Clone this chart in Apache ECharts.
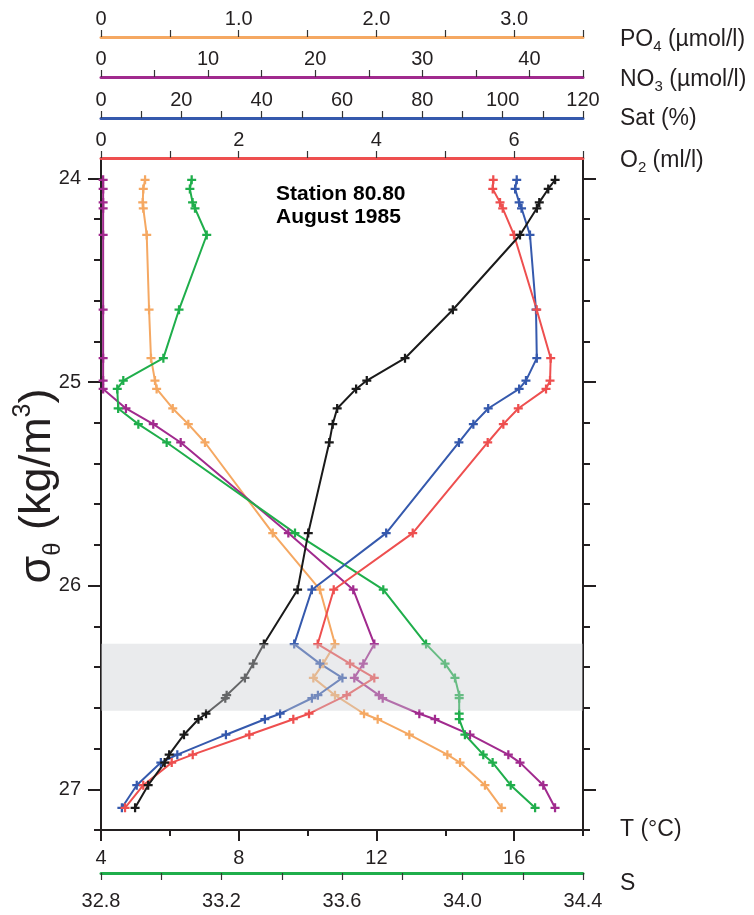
<!DOCTYPE html>
<html>
<head>
<meta charset="utf-8">
<script src="https://cdn.jsdelivr.net/npm/echarts@6/dist/echarts.min.js"></script>
<style>
  html, body { margin: 0; padding: 0; background: #fff; }
  #chart { width: 754px; height: 915px; }
</style>
</head>
<body>
<div id="chart"></div>
<script>
(function() {
	'use strict';

	// sigma-theta levels of the samples (kg/m3)
	var sigma = [24.007, 24.052, 24.118, 24.147, 24.278, 24.645, 24.883, 24.993, 25.034, 25.13, 25.207, 25.297, 25.742,
		26.02, 26.287, 26.383, 26.453, 26.538, 26.553, 26.629, 26.656, 26.732, 26.83, 26.869, 26.98, 27.091];
	var temp = [17.19, 16.99, 16.73, 16.66, 16.17, 14.22, 12.83, 11.72, 11.41, 10.86, 10.73, 10.63, 10.02,
		9.71, 8.73, 8.42, 8.18, 7.65, 7.61, 7.05, 6.83, 6.41, 5.98, 5.85, 5.37, 4.99];
	var salt = [33.101, 33.095, 33.104, 33.112, 33.151, 33.059, 33.007, 32.874, 32.854, 32.857, 32.924, 33.018, 33.444,
		33.737, 33.879, 33.942, 33.975, 33.989, 33.989, 33.989, 33.989, 34.008, 34.069, 34.100, 34.160, 34.241];
	var oxy = [5.697, 5.689, 5.795, 5.834, 5.998, 6.328, 6.531, 6.521, 6.463, 6.060, 5.843, 5.616, 4.527,
		3.38, 3.147, 3.616, 3.969, 3.568, null, 3.021, 2.793, 2.154, 1.332, 1.027, 0.614, 0.349];
	var sat = [103.5, 103.1, 104.1, 104.7, 106.8, 108.3, 108.5, 105.8, 104.1, 96.4, 92.7, 89.1, 71.0,
		52.5, 48.1, 54.5, 60.1, 54.0, 52.5, 44.6, 40.8, 31.1, 19.0, 14.9, 8.9, 5.2];
	var no3 = [0.2, 0.2, 0.2, 0.2, 0.2, 0.2, 0.2, 0.2, 0.2, 2.33, 4.88, 7.44, 17.49,
		23.55, 25.52, 24.49, 23.65, 25.95, 26.30, 29.72, 31.18, 34.45, 38.03, 39.12, 41.29, 42.39];
	var po4 = [0.320, 0.307, 0.303, 0.307, 0.332, 0.349, 0.363, 0.392, 0.404, 0.521, 0.634, 0.755, 1.247,
		1.590, 1.699, 1.614, 1.542, 1.699, null, 1.910, 2.009, 2.239, 2.515, 2.607, 2.788, 2.909];

	// low oxygen band (sigma range)
	var band = [26.285, 26.615];

	// tick positions and labels
	var sigmaMajor = [24, 25, 26, 27];
	var sigmaMinor = [24.2, 24.4, 24.6, 24.8, 25.2, 25.4, 25.6, 25.8, 26.2, 26.4, 26.6, 26.8, 27.2];
	var tMajor = [4, 8, 12, 16];
	var tMinor = [6, 10, 14, 18];
	var sTicks = [32.8, 33.0, 33.2, 33.4, 33.6, 33.8, 34.0, 34.2, 34.4];
	var sLabels = [32.8, 33.2, 33.6, 34.0, 34.4];
	var o2Ticks = [0, 1, 2, 3, 4, 5, 6, 7];
	var o2Labels = [0, 2, 4, 6];
	var satTicks = [0, 10, 20, 30, 40, 50, 60, 70, 80, 90, 100, 110, 120];
	var satLabels = [0, 20, 40, 60, 80, 100, 120];
	var no3Ticks = [0, 5, 10, 15, 20, 25, 30, 35, 40, 45];
	var no3Labels = [0, 10, 20, 30, 40];
	var po4Ticks = [0, 0.5, 1.0, 1.5, 2.0, 2.5, 3.0, 3.5];
	var po4Labels = [0, 1.0, 2.0, 3.0];

	var font = 'Liberation Sans, Arial, sans-serif';
	var ink = '#231f20';
	var cross = 'path://M3,0H5V3H8V5H5V8H3V5H0V3H3Z';

	function pairs(vals) {
		var out = [];
		vals.forEach(function(v, i) {
			if (v !== null) out.push([v, sigma[i]]);
		});
		return out;
	}

	function fixed1(v) { return v === 0 ? '0' : v.toFixed(1); }

	function xaxis(pos, offset, min, max, color, lw, ticks, labels, fmt, tickLen, margin) {
		return {
			type: 'value', position: pos, offset: offset, min: min, max: max,
			axisLine: { show: lw > 0, onZero: false, lineStyle: { color: color, width: lw } },
			axisTick: { show: true, customValues: ticks, length: tickLen, lineStyle: { color: '#333', width: 1.2 } },
			axisLabel: labels ? { customValues: labels, formatter: fmt, margin: margin,
				color: ink, fontSize: 20, fontFamily: font } : { show: false },
			splitLine: { show: false }
		};
	}

	var xAxes = [
		xaxis('bottom', 0, 4, 18, ink, 2, tMajor, tMajor, null, 11, 18),
		xaxis('bottom', 0, 4, 18, ink, 0, tMinor, null, null, 6, 0),
		xaxis('bottom', 43, 32.8, 34.4, '#1fae4b', 3, sTicks, sLabels, fixed1, 7, 18),
		xaxis('top', 0, 0, 7, '#ee4f4f', 3, o2Ticks, o2Labels, null, 7, 8),
		xaxis('top', 40, 0, 120, '#3559ad', 3, satTicks, satLabels, null, 7, 8),
		xaxis('top', 81, 0, 45, '#a12a8e', 3, no3Ticks, no3Labels, null, 7, 8),
		xaxis('top', 121, 0, 3.5, '#f5a862', 3, po4Ticks, po4Labels, fixed1, 7, 8)
	];
	xAxes[0].axisTick.lineStyle = { color: ink, width: 2 };
	xAxes[1].axisTick.lineStyle = { color: ink, width: 2 };

	function yaxis(pos, ticks, len, line, labels) {
		return {
			type: 'value', position: pos, inverse: true, min: 23.9, max: 27.2,
			axisLine: { show: line, onZero: false, lineStyle: { color: ink, width: 2 } },
			axisTick: { show: true, customValues: ticks, length: len, lineStyle: { color: ink, width: 2 } },
			axisLabel: labels ? { customValues: labels, margin: 20, color: ink, fontSize: 20, fontFamily: font } : { show: false },
			splitLine: { show: false }
		};
	}

	var yAxes = [
		yaxis('left', sigmaMajor, 13, true, sigmaMajor),
		yaxis('left', sigmaMinor, 7, false, null),
		yaxis('right', sigmaMajor, 13, true, null),
		yaxis('right', sigmaMinor, 7, false, null)
	];

	function line(name, vals, xi, color) {
		return {
			name: name, type: 'line', xAxisIndex: xi, yAxisIndex: 0,
			data: pairs(vals),
			symbol: cross, symbolSize: 9, symbolKeepAspect: true,
			itemStyle: { color: color },
			lineStyle: { color: color, width: 2 },
			z: 3
		};
	}

	var series = [
		line('PO4', po4, 6, '#f5a862'),
		line('NO3', no3, 5, '#a12a8e'),
		line('S', salt, 2, '#1fae4b'),
		line('Sat', sat, 4, '#3559ad'),
		line('O2', oxy, 3, '#ee4f4f'),
		line('T', temp, 0, '#1a1a1a'),
		{
			// translucent band drawn over the profiles
			type: 'custom', xAxisIndex: 0, yAxisIndex: 0, z: 10, silent: true,
			data: [[band[0], band[1]]],
			renderItem: function(params, api) {
				var cs = params.coordSys;
				var y0 = api.coord([4, api.value(0)])[1];
				var y1 = api.coord([4, api.value(1)])[1];
				return {
					type: 'rect',
					shape: { x: cs.x, y: y0, width: cs.width, height: y1 - y0 },
					style: { fill: 'rgba(205,208,213,0.42)' }
				};
			}
		}
	];

	function name(text, y) {
		return {
			type: 'text', x: 620, y: y, z: 20,
			style: {
				text: text, fill: ink, font: '23px ' + font, verticalAlign: 'middle', align: 'left',
				rich: {
					n: { fontSize: 23, fontFamily: font, lineHeight: 28, verticalAlign: 'middle' },
					s: { fontSize: 15, fontFamily: font, lineHeight: 16, verticalAlign: 'bottom' }
				}
			}
		};
	}

	var option = {
		animation: false,
		backgroundColor: '#fff',
		grid: { left: 101, right: 171, top: 158, bottom: 85 },
		xAxis: xAxes,
		yAxis: yAxes,
		series: series,
		graphic: [
			name('{n|PO}{s|4}{n| (µmol/l)}', 40),
			name('{n|NO}{s|3}{n| (µmol/l)}', 80),
			name('{n|Sat (%)}', 119),
			name('{n|O}{s|2}{n| (ml/l)}', 161),
			name('{n|T (°C)}', 830),
			name('{n|S}', 884),
			{
				type: 'text', x: 276, y: 182, z: 20,
				style: {
					text: 'Station 80.80\nAugust 1985', fill: '#000',
					font: 'bold 21px ' + font, lineHeight: 23.5, align: 'left', verticalAlign: 'top'
				}
			},
			{
				type: 'text', x: 38, y: 486, rotation: Math.PI / 2, z: 20,
				style: {
					text: '{n|σ}{s|θ}{n| (kg/m}{p|3}{n|)}', fill: ink, align: 'center', verticalAlign: 'middle',
					rich: {
						n: { fontSize: 45, fontFamily: font, lineHeight: 54, verticalAlign: 'middle' },
						s: { fontSize: 24, fontFamily: font, lineHeight: 25, verticalAlign: 'bottom' },
						p: { fontSize: 25, fontFamily: font, lineHeight: 27, verticalAlign: 'top' }
					}
				}
			}
		]
	};

	var chart = echarts.init(document.getElementById('chart'));
	chart.setOption(option);
})();
</script>
</body>
</html>
